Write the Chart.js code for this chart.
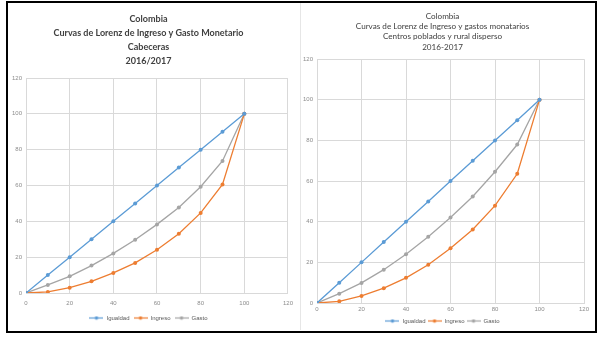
<!DOCTYPE html>
<html>
<head>
<meta charset="utf-8">
<script src="https://cdn.jsdelivr.net/npm/chart.js@4.4.1/dist/chart.umd.min.js"></script>
<style>
  body { margin: 0; background: #fff; width: 614px; height: 342px; position: relative; overflow: hidden; }
  #marco { position: absolute; left: 6px; top: 1px; width: 587px; height: 328px; border: 2px solid #000; }
  #divisor { position: absolute; left: 300px; top: 3px; width: 1px; height: 327px; background: #e6e6e6; }
  .caja { position: absolute; top: 3px; width: 292px; }
</style>
</head>
<body>
<div id="marco"></div>
<div id="divisor"></div>
<div class="caja" style="left:8px"><canvas id="cabeceras" width="292" height="330"></canvas></div>
<div class="caja" style="left:301px"><canvas id="rural" width="292" height="331"></canvas></div>
<script>
// percentiles acumulados de poblacion
const percentil = [0, 10, 20, 30, 40, 50, 60, 70, 80, 90, 100]
const igualdad = [0, 10, 20, 30, 40, 50, 60, 70, 80, 90, 100]

// Cabeceras
const ingresoCab = [0, 0.6, 3.0, 6.5, 11.2, 16.8, 24.1, 33.1, 44.7, 60.6, 100]
const gastoCab = [0, 4.5, 9.3, 15.3, 22.1, 29.7, 38.3, 47.7, 59.3, 73.7, 100]

// Centros poblados y rural disperso
const ingresoRur = [0, 0.8, 3.5, 7.3, 12.4, 18.8, 26.9, 36.2, 47.9, 63.6, 100]
const gastoRur = [0, 4.6, 9.9, 16.4, 24.0, 32.6, 42.1, 52.4, 64.6, 78.0, 100]

const ticksEjes = [0, 20, 40, 60, 80, 100, 120]

const colores = { igualdad: "#5B9BD5", ingreso: "#ED7D31", gasto: "#A5A5A5" }

const tituloCab = ["Colombia", "Curvas de Lorenz de Ingreso y Gasto Monetario", "Cabeceras", "2016/2017"]
const tituloRur = ["Colombia", "Curvas de Lorenz de Ingreso y gastos monatarios", "Centros poblados y rural disperso", "2016-2017"]

const fuente = "'Liberation Sans', sans-serif"
const fuenteTitulo = "Lato, 'Liberation Sans', sans-serif"

// tamaño de letra para que la linea mas larga del titulo mida "ancho"
function tamanoTitulo(linea, peso, ancho){
  const ctx = document.createElement("canvas").getContext("2d")
  ctx.font = peso + " 20px " + fuenteTitulo
  return 20 * ancho / ctx.measureText(linea).width
}

// icono de leyenda: linea con marcador
function iconoLeyenda(color){
  const c = document.createElement("canvas")
  c.width = 14
  c.height = 5
  const ctx = c.getContext("2d")
  ctx.strokeStyle = color
  ctx.lineWidth = 1.2
  ctx.beginPath()
  ctx.moveTo(0, 2.5)
  ctx.lineTo(14, 2.5)
  ctx.stroke()
  ctx.fillStyle = color
  ctx.beginPath()
  ctx.arc(7, 2.5, 1.8, 0, Math.PI * 2)
  ctx.fill()
  return c
}

function puntos(valores){
  return percentil.map(function(p, i){ return { x: p, y: valores[i] } })
}

function serie(nombre, valores, color){
  return {
    label: nombre,
    data: puntos(valores),
    borderColor: color,
    backgroundColor: color,
    borderWidth: 1.3,
    pointRadius: 2,
    pointBorderWidth: 0,
    pointHoverRadius: 2,
    tension: 0
  }
}

function crearGrafico(id, titulo, ingreso, gasto, cfg){
  const grafico = new Chart(id, {
    type: "line",
    data: {
      datasets: [
        serie("Igualdad", igualdad, colores.igualdad),
        serie("Ingreso", ingreso, colores.ingreso),
        serie("Gasto", gasto, colores.gasto)
      ]
    },
    options: {
      responsive: false,
      animation: false,
      layout: { padding: cfg.padding },
      plugins: {
        title: {
          display: true,
          text: titulo,
          color: "#404040",
          font: { family: fuenteTitulo, size: tamanoTitulo(titulo[1], cfg.tituloPeso, cfg.tituloAncho), weight: cfg.tituloPeso, lineHeight: cfg.tituloLinea },
          padding: cfg.tituloPad
        },
        legend: {
          position: "bottom",
          labels: {
            usePointStyle: true,
            pointStyleWidth: 14,
            boxHeight: 5,
            padding: cfg.leyendaPad,
            color: "#595959",
            font: { family: fuente, size: 6 },
            generateLabels: function(chart){
              return chart.data.datasets.map(function(ds, i){
                return {
                  text: ds.label,
                  fillStyle: ds.borderColor,
                  strokeStyle: ds.borderColor,
                  fontColor: "#595959",
                  lineWidth: 0,
                  pointStyle: iconoLeyenda(ds.borderColor),
                  datasetIndex: i
                }
              })
            }
          }
        },
        tooltip: { enabled: false }
      },
      scales: {
        x: {
          type: "linear",
          min: 0,
          max: 120,
          afterBuildTicks: function(s){ s.ticks = ticksEjes.map(function(v){ return { value: v } }) },
          afterFit: function(s){ s.height = cfg.xAlto },
          grid: { color: "#d9d9d9", drawTicks: false },
          border: { color: "#d9d9d9" },
          ticks: { color: "#8c8c8c", font: { family: fuente, size: 6 }, padding: cfg.xPad, maxRotation: 0 }
        },
        y: {
          min: 0,
          max: 120,
          afterBuildTicks: function(s){ s.ticks = ticksEjes.map(function(v){ return { value: v } }) },
          afterFit: function(s){ s.width = cfg.yAncho },
          grid: { color: "#d9d9d9", drawTicks: false },
          border: { color: "#d9d9d9" },
          ticks: { color: "#8c8c8c", font: { family: fuente, size: 6 }, padding: 4 }
        }
      }
    }
  })
  return grafico
}

crearGrafico("cabeceras", tituloCab, ingresoCab, gastoCab, {
  padding: { left: 0, right: 11, top: 0, bottom: 2 },
  tituloPeso: "bold",
  tituloAncho: 190,
  tituloLinea: "14px",
  tituloPad: { top: 9, bottom: 10 },
  leyendaPad: 4,
  xPad: 7,
  xAlto: 18,
  yAncho: 18
})

crearGrafico("rural", tituloRur, ingresoRur, gastoRur, {
  padding: { left: 0, right: 9, top: 0, bottom: 0 },
  tituloPeso: "normal",
  tituloAncho: 174,
  tituloLinea: "10.3px",
  tituloPad: { top: 8, bottom: 7 },
  leyendaPad: 2,
  xPad: 3,
  xAlto: 13,
  yAncho: 16
})
</script>
</body>
</html>
